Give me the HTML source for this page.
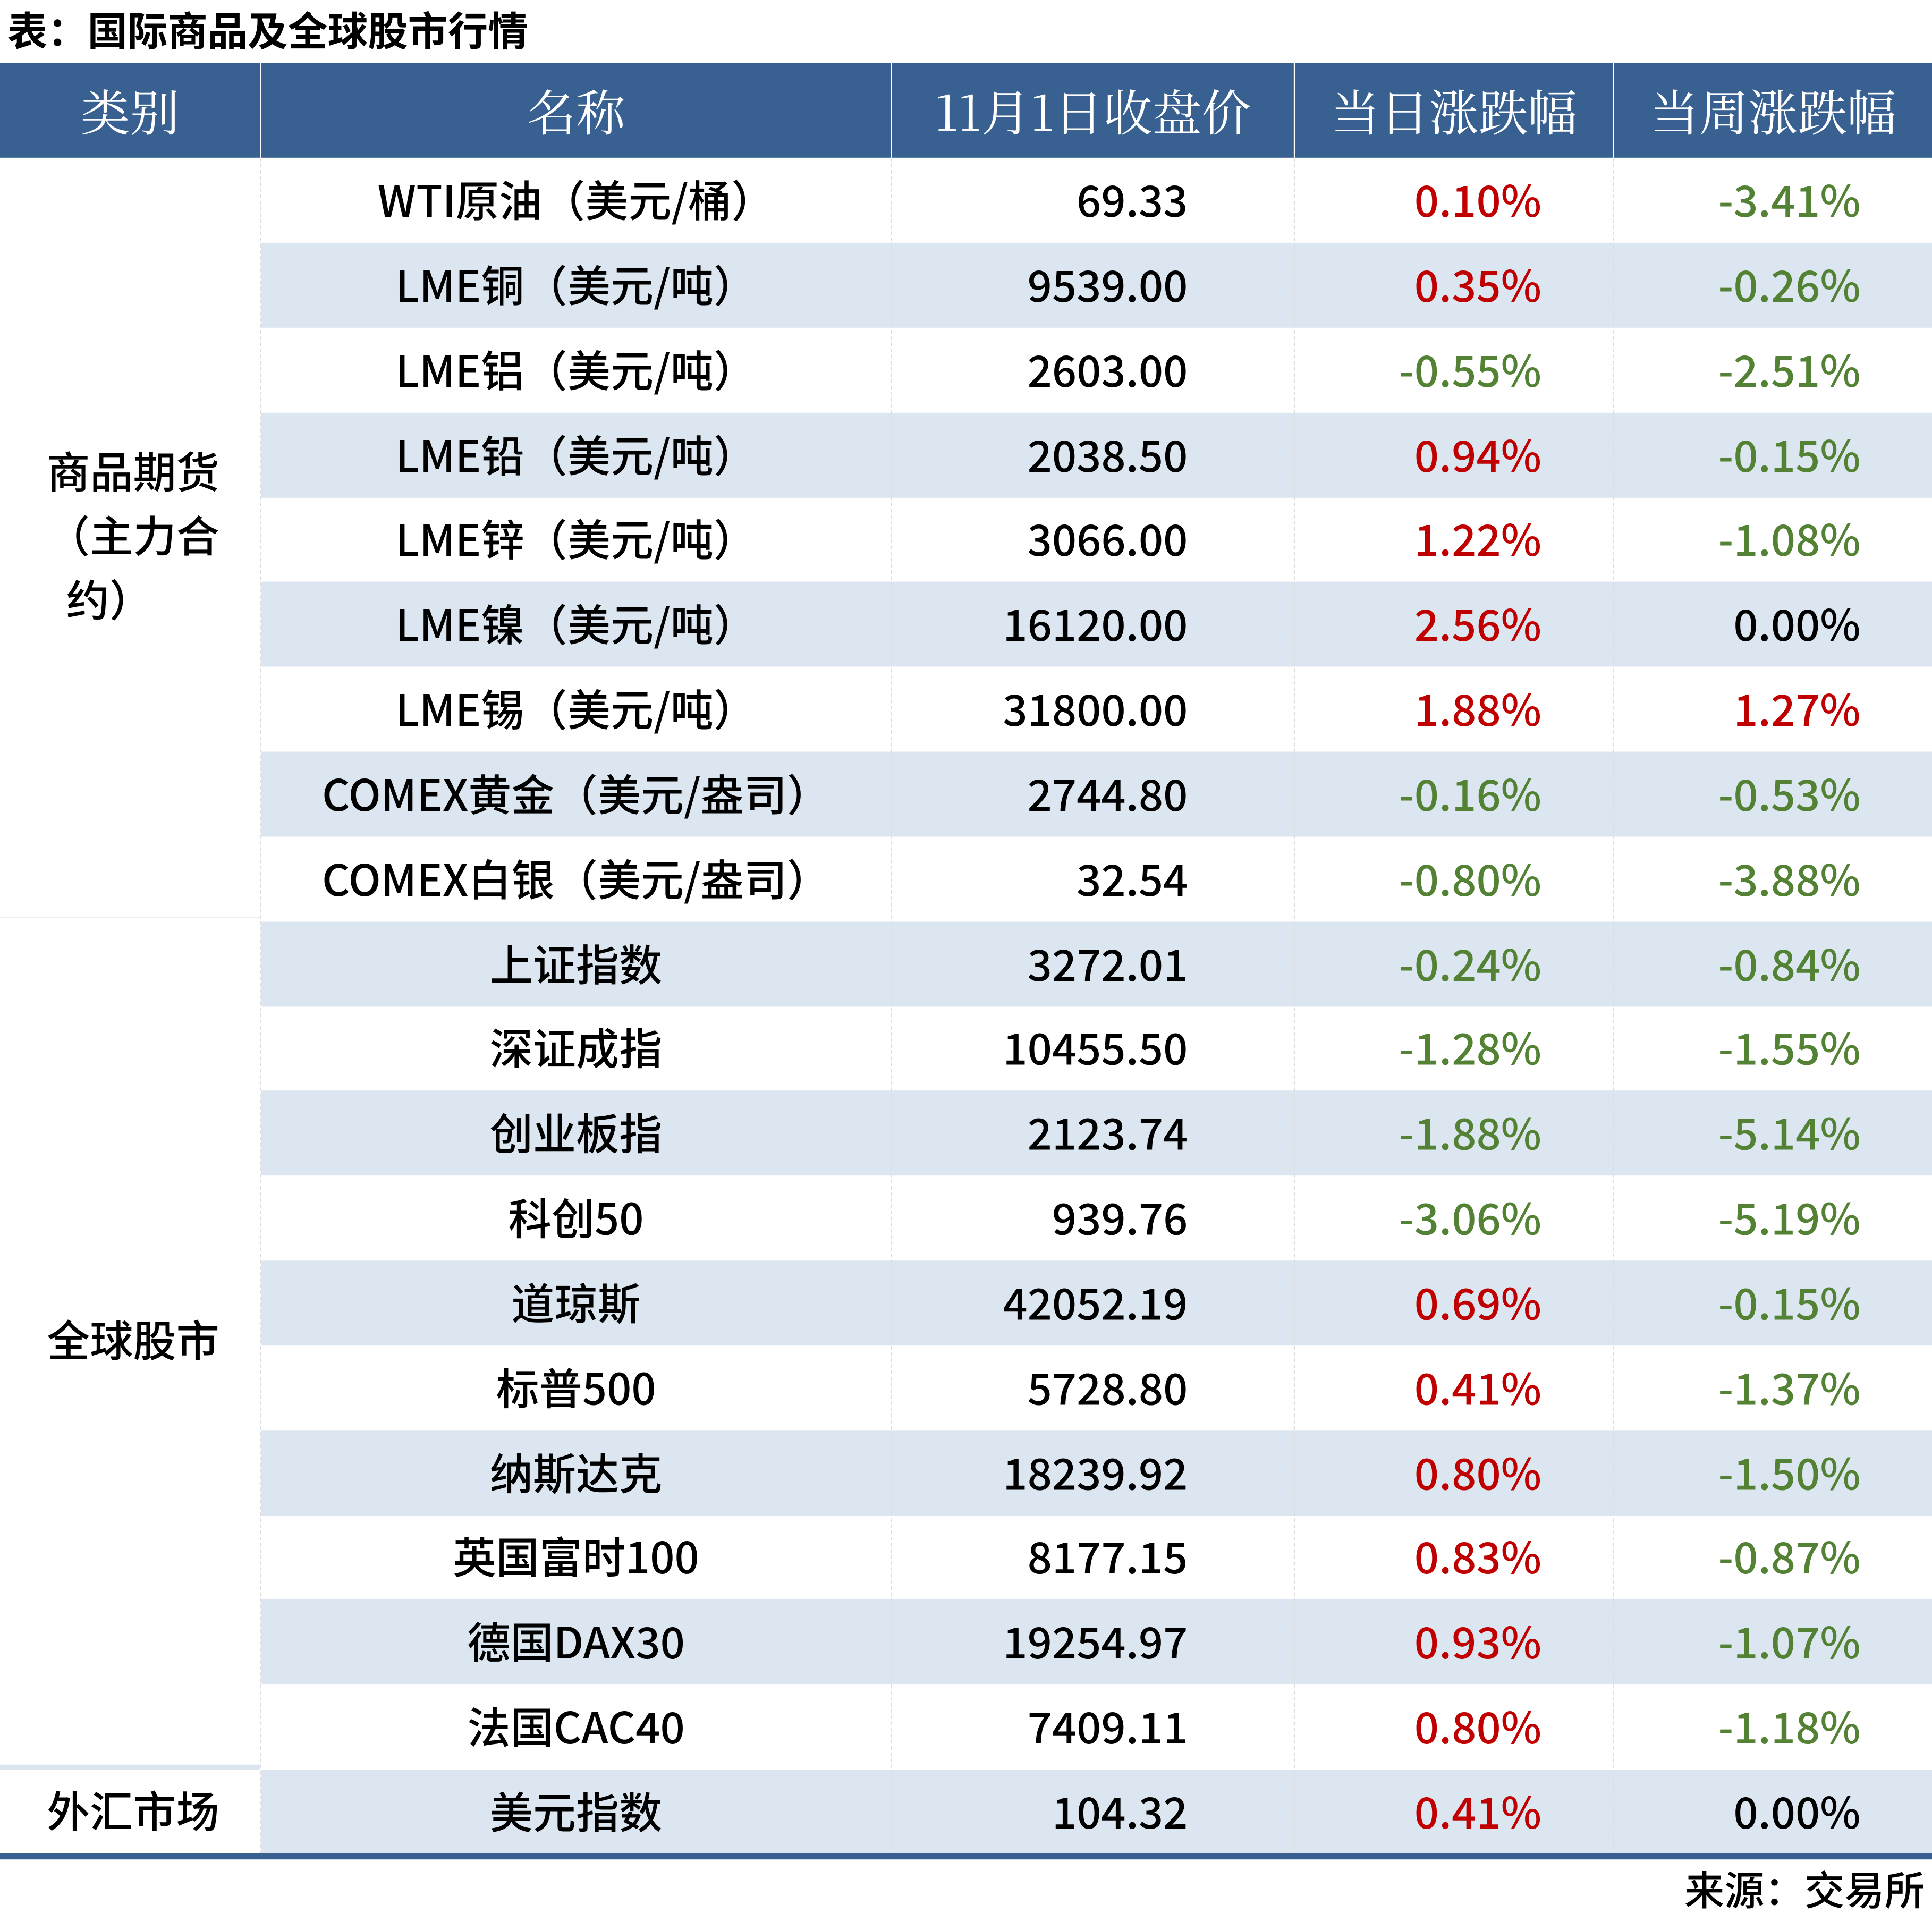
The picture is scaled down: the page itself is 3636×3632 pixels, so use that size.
<!DOCTYPE html>
<html><head><meta charset="utf-8"><style>
html,body{margin:0;padding:0;background:#fff;width:3636px;height:3632px;overflow:hidden}
#w{position:absolute;left:0;top:0;width:1568px;height:1566px;transform:scale(2.3189,2.3189);transform-origin:0 0;font-family:"Noto Sans CJK SC","Liberation Sans",sans-serif}
.a{position:absolute;white-space:nowrap}
.t{font-size:35px;font-weight:500;line-height:68.84px;color:#000}
.r{color:#c00000}.g{color:#548235}
.h{font-family:"Noto Serif CJK SC","Liberation Serif",serif;color:#fff;font-size:40px;line-height:78px;top:51px;text-align:center}
</style></head><body><div id="w">
<div class="a" style="left:6px;top:2px;font-size:32.5px;font-weight:bold;line-height:44px">表：国际商品及全球股市行情</div>
<div class="a" style="left:0;top:51px;width:1568px;height:77px;background:#386192"></div>
<div class="a" style="left:211px;top:51px;width:1px;height:77px;background:#fff"></div>
<div class="a" style="left:723px;top:51px;width:1px;height:77px;background:#fff"></div>
<div class="a" style="left:1050px;top:51px;width:1px;height:77px;background:#fff"></div>
<div class="a" style="left:1309px;top:51px;width:1px;height:77px;background:#fff"></div>
<div class="a h" style="left:0;width:211px">类别</div>
<div class="a h" style="left:212px;width:511px">名称</div>
<div class="a h" style="left:724px;width:326px">11月1日收盘价</div>
<div class="a h" style="left:1051px;width:258px">当日涨跌幅</div>
<div class="a h" style="left:1310px;width:258px">当周涨跌幅</div>
<div id="rows"></div>
<div class="a" style="left:211px;top:128px;width:0;height:1377px;border-left:1px dashed #ddd"></div>
<div class="a" style="left:723px;top:128px;width:0;height:1377px;border-left:1px dashed #ddd"></div>
<div class="a" style="left:1050px;top:128px;width:0;height:1377px;border-left:1px dashed #ddd"></div>
<div class="a" style="left:1309px;top:128px;width:0;height:1377px;border-left:1px dashed #ddd"></div>
<div class="a" style="left:0;top:744px;width:211px;height:1px;background:#eee"></div>
<div class="a" style="left:0;top:1432px;width:211px;height:4px;background:#dce6f0"></div>
<div class="a" style="left:0;top:1504px;width:1568px;height:5px;background:#386192"></div>
<div class="a" style="left:38px;top:356px;font-size:35px;font-weight:500;line-height:52px">商品期货<br>（主力合<br>&nbsp;&nbsp;约）</div>
<div class="a" style="left:38px;top:1063px;font-size:35px;font-weight:500;line-height:48px">全球股市</div>
<div class="a" style="left:38px;top:1445px;font-size:35px;font-weight:500;line-height:48px">外汇市场</div>
<div class="a" style="right:6px;top:1511px;font-size:32.5px;font-weight:500;line-height:44px">来源：交易所</div>
</div>
<script>
var d=[["WTI原油（美元/桶）","69.33","0.10%","-3.41%"],["LME铜（美元/吨）","9539.00","0.35%","-0.26%"],["LME铝（美元/吨）","2603.00","-0.55%","-2.51%"],["LME铅（美元/吨）","2038.50","0.94%","-0.15%"],["LME锌（美元/吨）","3066.00","1.22%","-1.08%"],["LME镍（美元/吨）","16120.00","2.56%","0.00%"],["LME锡（美元/吨）","31800.00","1.88%","1.27%"],["COMEX黄金（美元/盎司）","2744.80","-0.16%","-0.53%"],["COMEX白银（美元/盎司）","32.54","-0.80%","-3.88%"],["上证指数","3272.01","-0.24%","-0.84%"],["深证成指","10455.50","-1.28%","-1.55%"],["创业板指","2123.74","-1.88%","-5.14%"],["科创50","939.76","-3.06%","-5.19%"],["道琼斯","42052.19","0.69%","-0.15%"],["标普500","5728.80","0.41%","-1.37%"],["纳斯达克","18239.92","0.80%","-1.50%"],["英国富时100","8177.15","0.83%","-0.87%"],["德国DAX30","19254.97","0.93%","-1.07%"],["法国CAC40","7409.11","0.80%","-1.18%"],["美元指数","104.32","0.41%","0.00%"]];
function c(v){return v=="0.00%"?"":(v[0]=="-"?"g":"r")}
var h="";
for(var i=0;i<d.length;i++){var y=128+i*68.84,r=d[i];
if(i%2==1)h+='<div class="a" style="left:212px;top:'+y+'px;width:1356px;height:69px;background:#dce6f0"></div>';
h+='<div class="a t" style="left:212px;top:'+y+'px;width:511px;text-align:center">'+r[0]+'</div>';
h+='<div class="a t" style="left:724px;top:'+y+'px;width:240px;text-align:right">'+r[1]+'</div>';
h+='<div class="a t '+c(r[2])+'" style="left:1051px;top:'+y+'px;width:200px;text-align:right">'+r[2]+'</div>';
h+='<div class="a t '+c(r[3])+'" style="left:1310px;top:'+y+'px;width:200px;text-align:right">'+r[3]+'</div>';}
document.getElementById("rows").outerHTML=h;
</script>
</body></html>
